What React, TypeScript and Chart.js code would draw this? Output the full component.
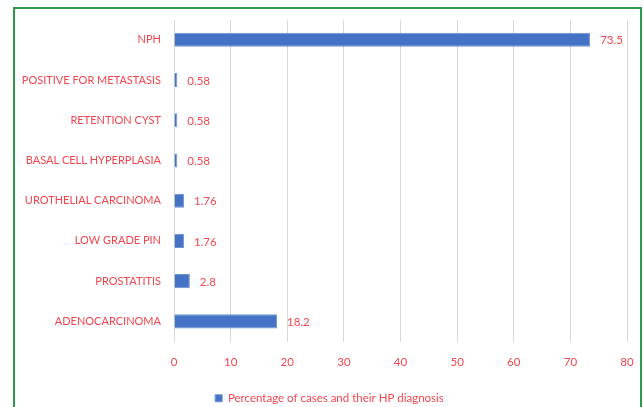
import React, { useEffect, useRef } from "react";
import { Chart, registerables } from "chart.js";

Chart.register(...registerables);

const categories = [
  "NPH",
  "POSITIVE FOR METASTASIS",
  "RETENTION CYST",
  "BASAL CELL HYPERPLASIA",
  "UROTHELIAL CARCINOMA",
  "LOW GRADE PIN",
  "PROSTATITIS",
  "ADENOCARCINOMA",
];
const values = [73.5, 0.58, 0.58, 0.58, 1.76, 1.76, 2.8, 18.2];
const seriesLabel = "Percentage of cases and their HP diagnosis";
const xTicks = [0, 10, 20, 30, 40, 50, 60, 70, 80];

const RED = "#f2464f";
const BLUE = "#4472c4";
const FONT = "Lato";

const valueLabels = {
  id: "valueLabels",
  afterLayout(chart: any) {
    if (chart.legend) {
      chart.legend.left += 16;
      chart.legend.right += 16;
    }
  },
  afterDatasetsDraw(chart: any) {
    const ctx = chart.ctx;
    const meta = chart.getDatasetMeta(0);
    ctx.save();
    ctx.fillStyle = RED;
    ctx.font = `11.5px ${FONT}`;
    ctx.textAlign = "left";
    ctx.textBaseline = "middle";
    meta.data.forEach((bar: any, i: number) => {
      ctx.fillText(String(values[i]), bar.x + 10, bar.y + 1);
    });
    ctx.restore();
  },
};

export default function App() {
  const ref = useRef<HTMLCanvasElement | null>(null);
  useEffect(() => {
    if (!ref.current) return;
    const chart = new Chart(ref.current, {
      type: "bar",
      data: {
        labels: categories,
        datasets: [
          {
            label: seriesLabel,
            data: values,
            backgroundColor: BLUE,
            borderColor: "#6f93d4",
            borderWidth: 1,
            categoryPercentage: 1,
            barPercentage: 0.35,
          },
        ],
      },
      options: {
        indexAxis: "y",
        animation: false,
        responsive: false,
        maintainAspectRatio: false,
        layout: { padding: { top: 7, right: 16, left: 0, bottom: 0 } },
        plugins: {
          tooltip: { enabled: false },
          legend: {
            position: "bottom",
            labels: {
              boxWidth: 7,
              boxHeight: 7,
              color: RED,
              font: { family: FONT, size: 11.5 },
              padding: 4,
            },
          },
        },
        scales: {
          x: {
            min: 0,
            max: 80,
            afterBuildTicks(scale: any) {
              scale.ticks = xTicks.map((v) => ({ value: v }));
            },
            afterFit(scale: any) {
              scale.height = 47;
            },
            grid: { color: "#d9d9d9", drawTicks: true, tickLength: 14, tickColor: "rgba(0,0,0,0)" },
            border: { display: false },
            ticks: {
              color: RED,
              font: { family: FONT, size: 11.5 },
              padding: 0,
            },
          },
          y: {
            grid: { display: false, drawTicks: false },
            border: { display: false },
            afterFit(scale: any) {
              scale.width = 174;
            },
            ticks: {
              color: RED,
              font: { family: FONT, size: 11 },
              padding: 13,
            },
          },
        },
      },
      plugins: [valueLabels],
    });
    return () => chart.destroy();
  }, []);

  return (
    <div style={{ position: "absolute", left: 0, top: 0, width: 643, height: 407, overflow: "hidden", background: "#fff" }}>
      <div
        style={{
          position: "absolute",
          left: 13,
          top: 7,
          width: 629,
          height: 420,
          border: "2px solid #2f9a4c",
          boxSizing: "border-box",
        }}
      />
      <canvas ref={ref} width={643} height={414} style={{ position: "absolute", left: 0, top: 0, width: 643, height: 414 }} />
    </div>
  );
}
